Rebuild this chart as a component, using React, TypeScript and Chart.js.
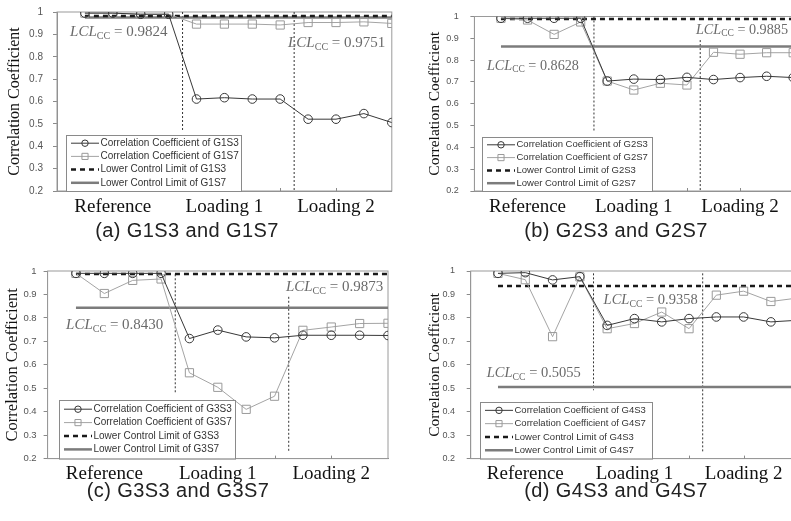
import React, { useEffect, useRef } from 'react';
import { Chart, registerables } from 'chart.js';

Chart.register(...registerables);

// ---------- data ----------
const xIndex = [1, 2, 3, 4, 5, 6, 7, 8, 9, 10, 11, 12];
const phaseTicks = [2, 6, 10];
const phaseLabels = ['Reference', 'Loading 1', 'Loading 2'];

const g1s3 = [0.995, 0.995, 0.99, 0.99, 0.611, 0.617, 0.611, 0.611, 0.521, 0.521, 0.546, 0.506];
const g1s7 = [0.995, 0.995, 0.99, 0.99, 0.946, 0.946, 0.946, 0.942, 0.953, 0.953, 0.956, 0.949];
const g2s3 = [0.992, 0.992, 0.992, 0.992, 0.704, 0.713, 0.711, 0.721, 0.711, 0.72, 0.726, 0.72];
const g2s7 = [0.992, 0.984, 0.918, 0.975, 0.704, 0.663, 0.694, 0.686, 0.836, 0.827, 0.834, 0.834];
const g3s3 = [0.99, 0.99, 0.99, 0.99, 0.712, 0.748, 0.719, 0.715, 0.726, 0.726, 0.726, 0.725];
const g3s7 = [0.99, 0.904, 0.96, 0.966, 0.566, 0.504, 0.41, 0.466, 0.747, 0.761, 0.776, 0.777];
const g4s3 = [0.99, 0.993, 0.962, 0.976, 0.768, 0.797, 0.783, 0.797, 0.804, 0.804, 0.783, 0.79];
const g4s7 = [0.99, 0.963, 0.72, 0.975, 0.754, 0.776, 0.825, 0.754, 0.897, 0.914, 0.87, 0.885];

// lower control limits [S3, S7]
const lclG1 = [0.9824, 0.9751];
const lclG2 = [0.9885, 0.8628];
const lclG3 = [0.9873, 0.843];
const lclG4 = [0.9358, 0.5055];

// phase divider lines [x, yTop, yBottom]
const dividersG1 = [[4.5, 1.0, 0.473], [8.5, 1.0, 0.2]];
const dividersG2 = [[4.5, 1.0, 0.472], [8.5, 0.892, 0.2]];
const dividersG3 = [[4.5, 0.986, 0.483], [8.5, 0.89, 0.225]];
const dividersG4 = [[4.5, 0.99, 0.492], [8.5, 0.99, 0.226]];

// LCL label anchors [x, y] for [S3, S7]
const notesG1 = [[0.47, 0.911], [8.28, 0.861]];
const notesG2 = [[8.34, 0.938], [0.47, 0.773]];
const notesG3 = [[8.4, 0.932], [0.65, 0.769]];
const notesG4 = [[4.87, 0.876], [0.59, 0.564]];

// ---------- styling ----------
const SERIF = '"Liberation Serif", "Times New Roman", serif';
const SANS = '"Liberation Sans", Arial, sans-serif';

const decorPlugin = {
  id: 'decor',
  beforeDatasetsDraw(chart: any) {
    const { ctx, chartArea: a } = chart;
    ctx.save();
    ctx.strokeStyle = '#9a9a9a';
    ctx.lineWidth = 1;
    ctx.strokeRect(a.left, a.top, a.right - a.left, a.bottom - a.top);
    ctx.restore();
  },
  afterDatasetsDraw(chart: any, _args: any, opts: any) {
    const { ctx, chartArea: a } = chart;
    const xs = chart.scales.x;
    const ys = chart.scales.y;
    ctx.save();
    // inward tick marks on the x axis
    ctx.strokeStyle = '#8a8a8a';
    ctx.lineWidth = 1;
    xs.ticks.forEach((t: any) => {
      if (t.value <= xs.min || t.value >= xs.max) return;
      const px = Math.round(xs.getPixelForValue(t.value)) + 0.5;
      ctx.beginPath();
      ctx.moveTo(px, a.bottom);
      ctx.lineTo(px, a.bottom - 3);
      ctx.stroke();
    });
    // LCL annotations
    const fs = opts.noteSize || 15;
    (opts.notes || []).forEach((n: any) => {
      let px = xs.getPixelForValue(n.x);
      const py = ys.getPixelForValue(n.y);
      ctx.fillStyle = '#6a6a6a';
      ctx.textBaseline = 'middle';
      ctx.textAlign = 'left';
      ctx.font = `italic ${fs}px ${SERIF}`;
      ctx.fillText('LCL', px, py);
      px += ctx.measureText('LCL').width;
      ctx.font = `${fs * 0.67}px ${SERIF}`;
      ctx.fillText('CC', px, py + fs * 0.27);
      px += ctx.measureText('CC').width;
      ctx.font = `${fs}px ${SERIF}`;
      ctx.fillText(' = ' + n.value.toFixed(4), px, py);
    });
    // inset legend
    const lg = opts.legend;
    if (lg) {
      const left = a.left + lg.dx;
      const top = a.bottom - lg.h;
      ctx.fillStyle = '#ffffff';
      ctx.fillRect(left, top, lg.w, lg.h);
      ctx.strokeStyle = '#8a8a8a';
      ctx.lineWidth = 1;
      ctx.strokeRect(Math.round(left) + 0.5, Math.round(top) + 0.5, lg.w, lg.h);
      const items = chart.data.datasets.filter((d: any) => d.label);
      const rowH = lg.row;
      const pad = (lg.h - rowH * items.length) / 2;
      items.forEach((d: any, i: number) => {
        const cy = top + pad + (i + 0.5) * rowH;
        const x0 = left + 5;
        const x1 = x0 + 28;
        ctx.save();
        ctx.strokeStyle = d.borderColor;
        ctx.lineWidth = d.borderWidth;
        ctx.setLineDash(d.borderDash || []);
        ctx.beginPath();
        ctx.moveTo(x0, cy);
        ctx.lineTo(x1, cy);
        ctx.stroke();
        ctx.restore();
        if (d.pointRadius > 0) {
          ctx.save();
          ctx.strokeStyle = d.pointBorderColor;
          ctx.lineWidth = 1;
          const r = d.pointRadius * 0.75;
          ctx.beginPath();
          if (d.pointStyle === 'rect') {
            const s = r * Math.SQRT1_2;
            ctx.rect(x0 + 14 - s, cy - s, 2 * s, 2 * s);
          } else {
            ctx.arc(x0 + 14, cy, r, 0, Math.PI * 2);
          }
          ctx.stroke();
          ctx.restore();
        }
        ctx.fillStyle = '#333333';
        ctx.font = `${lg.font}px ${SANS}`;
        ctx.textBaseline = 'middle';
        ctx.textAlign = 'left';
        ctx.fillText(d.label, x1 + 1.5, cy);
      });
    }
    ctx.restore();
  },
};

function buildDatasets(g: string, s3: number[], s7: number[], lcl: number[], dividers: number[][]) {
  return [
    {
      label: `Correlation Coefficient of ${g}S3`,
      data: xIndex.map((x, i) => ({ x, y: s3[i] })),
      borderColor: '#383838',
      borderWidth: 1,
      pointStyle: 'circle',
      pointRadius: 4.3,
      pointBorderColor: '#383838',
      pointBackgroundColor: 'rgba(255,255,255,0)',
      pointBorderWidth: 1,
    },
    {
      label: `Correlation Coefficient of ${g}S7`,
      data: xIndex.map((x, i) => ({ x, y: s7[i] })),
      borderColor: '#a4a4a4',
      borderWidth: 1,
      pointStyle: 'rect',
      pointRadius: 5.8,
      pointBorderColor: '#9a9a9a',
      pointBackgroundColor: 'rgba(255,255,255,0)',
      pointBorderWidth: 1,
    },
    {
      label: `Lower Control Limit of ${g}S3`,
      data: [{ x: xIndex[0], y: lcl[0] }, { x: xIndex[xIndex.length - 1], y: lcl[0] }],
      borderColor: '#1a1a1a',
      borderWidth: 2.5,
      borderDash: [5, 4],
      pointRadius: 0,
    },
    {
      label: `Lower Control Limit of ${g}S7`,
      data: [{ x: xIndex[0], y: lcl[1] }, { x: xIndex[xIndex.length - 1], y: lcl[1] }],
      borderColor: '#7c7c7c',
      borderWidth: 2.5,
      pointRadius: 0,
    },
    ...dividers.map(([x, y0, y1]) => ({
      label: '',
      data: [{ x, y: y0 }, { x, y: y1 }],
      borderColor: '#333333',
      borderWidth: 1,
      borderDash: [2, 2],
      pointRadius: 0,
    })),
  ];
}

type PanelProps = {
  g: string;
  s3: number[];
  s7: number[];
  lcl: number[];
  dividers: number[][];
  notes: number[][];
  left: number;
  top: number;
  width: number;
  height: number;
  area: { left: number; top: number; right: number; bottom: number };
  yFont: number;
  yPad: number;
  titleSize: number;
  titlePad: number;
  noteSize: number;
  legend: { dx: number; w: number; h: number; font: number; row: number };
};

function zeroPadding(s: any) {
  s.paddingTop = 0;
  s.paddingBottom = 0;
  s.paddingLeft = 0;
  s.paddingRight = 0;
}

function Panel(p: PanelProps) {
  const ref = useRef<HTMLCanvasElement | null>(null);
  useEffect(() => {
    if (!ref.current) return;
    const chart = new Chart(ref.current, {
      type: 'line',
      data: { datasets: buildDatasets(p.g, p.s3, p.s7, p.lcl, p.dividers) as any },
      plugins: [decorPlugin],
      options: {
        responsive: false,
        animation: false,
        events: [],
        layout: { padding: { left: 0, top: p.area.top, right: p.width - p.area.right, bottom: 0 } },
        plugins: {
          legend: { display: false },
          tooltip: { enabled: false },
          decor: {
            notes: p.notes.map((n, i) => ({ x: n[0], y: n[1], value: p.lcl[i] })),
            noteSize: p.noteSize,
            legend: p.legend,
          },
        } as any,
        scales: {
          x: {
            type: 'linear',
            min: 0,
            max: 12,
            afterFit: (s: any) => {
              s.height = p.height - p.area.bottom;
              zeroPadding(s);
            },
            ticks: {
              stepSize: 2,
              autoSkip: false,
              maxRotation: 0,
              padding: 4.5,
              color: '#111111',
              font: { family: SERIF, size: 19 },
              callback: (v: any) => {
                const i = phaseTicks.indexOf(Number(v));
                return i >= 0 ? phaseLabels[i] : '';
              },
            },
            grid: { display: false, drawTicks: false },
            border: { display: true, color: '#8a8a8a', width: 1 },
          },
          y: {
            type: 'linear',
            min: 0.2,
            max: 1,
            afterFit: (s: any) => {
              s.width = p.area.left;
              zeroPadding(s);
            },
            ticks: {
              stepSize: 0.1,
              padding: p.yPad,
              color: '#555555',
              font: { family: SANS, size: p.yFont },
              callback: (v: any) => String(Math.round(Number(v) * 10) / 10),
            },
            grid: { display: true, drawOnChartArea: false, drawTicks: true, tickLength: 4, color: '#8a8a8a' },
            border: { display: true, color: '#8a8a8a', width: 1 },
            title: {
              display: true,
              text: 'Correlation Coefficient',
              color: '#111111',
              font: { family: SERIF, size: p.titleSize },
              padding: { top: p.titlePad, bottom: 0 },
            },
          },
        } as any,
      },
    });
    return () => chart.destroy();
  }, []);
  return (
    <canvas
      ref={ref}
      width={p.width}
      height={p.height}
      style={{ position: 'absolute', left: p.left, top: p.top, width: p.width, height: p.height }}
    />
  );
}

function Caption({ text, cx, cy }: { text: string; cx: number; cy: number }) {
  return (
    <div
      style={{
        position: 'absolute',
        left: cx - 150,
        top: cy - 12,
        width: 300,
        height: 24,
        lineHeight: '24px',
        textAlign: 'center',
        fontFamily: SANS,
        fontSize: 20,
        letterSpacing: '0.4px',
        color: '#222222',
        whiteSpace: 'nowrap',
      }}
    >
      {text}
    </div>
  );
}

export default function App() {
  return (
    <div
      style={{
        position: 'absolute',
        left: 0,
        top: 0,
        width: 791,
        height: 521,
        overflow: 'hidden',
        background: '#ffffff',
      }}
    >
      <Panel
        g="G1" s3={g1s3} s7={g1s7} lcl={lclG1} dividers={dividersG1} notes={notesG1}
        left={0} top={0} width={400} height={235}
        area={{ left: 57, top: 12, right: 391.8, bottom: 191 }}
        yFont={10} yPad={10} titleSize={16} titlePad={5.4} noteSize={15}
        legend={{ dx: 9, w: 175, h: 56, font: 10, row: 13.2 }}
      />
      <Panel
        g="G2" s3={g2s3} s7={g2s7} lcl={lclG2} dividers={dividersG2} notes={notesG2}
        left={400} top={0} width={400} height={235}
        area={{ left: 74.4, top: 16.5, right: 394.8, bottom: 191 }}
        yFont={9} yPad={11.7} titleSize={15.5} titlePad={26} noteSize={14.2}
        legend={{ dx: 7.6, w: 170, h: 54, font: 9.5, row: 12.8 }}
      />
      <Panel
        g="G3" s3={g3s3} s7={g3s7} lcl={lclG3} dividers={dividersG3} notes={notesG3}
        left={0} top={260} width={400} height={235}
        area={{ left: 47.6, top: 11, right: 388, bottom: 198.6 }}
        yFont={9.5} yPad={7} titleSize={16.5} titlePad={3} noteSize={15}
        legend={{ dx: 11.4, w: 176, h: 58.6, font: 10, row: 13.4 }}
      />
      <Panel
        g="G4" s3={g4s3} s7={g4s7} lcl={lclG4} dividers={dividersG4} notes={notesG4}
        left={400} top={260} width={405} height={235}
        area={{ left: 70.7, top: 11, right: 401.9, bottom: 198.6 }}
        yFont={9} yPad={11.7} titleSize={15.5} titlePad={26} noteSize={14.5}
        legend={{ dx: 9.3, w: 172, h: 56.6, font: 9.5, row: 13.3 }}
      />
      <Caption text="(a) G1S3 and G1S7" cx={187} cy={230} />
      <Caption text="(b) G2S3 and G2S7" cx={616} cy={230} />
      <Caption text="(c) G3S3 and G3S7" cx={178} cy={490} />
      <Caption text="(d) G4S3 and G4S7" cx={616} cy={490} />
    </div>
  );
}
